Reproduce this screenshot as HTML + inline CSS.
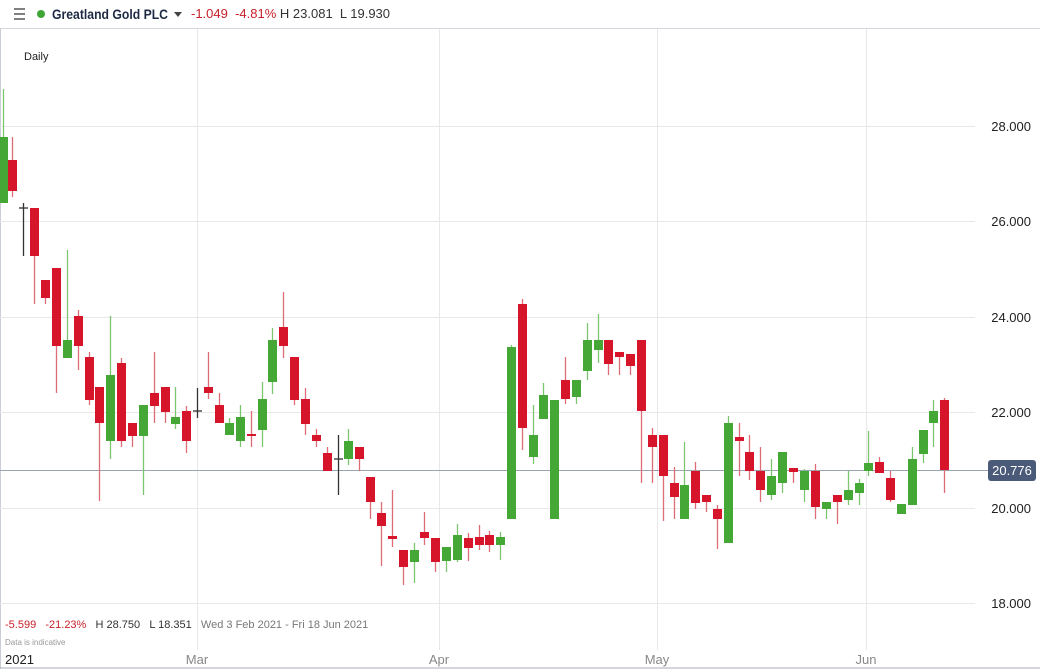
<!DOCTYPE html>
<html><head><meta charset="utf-8"><style>
body{margin:0;width:1040px;height:669px;background:#fff;font-family:"Liberation Sans",sans-serif;overflow:hidden;position:relative}
.t{position:absolute;white-space:nowrap}
</style></head><body>
<svg id="s" width="1040" height="669" style="position:absolute;left:0;top:0">
<line x1="0" y1="28.5" x2="1040" y2="28.5" stroke="#d4d8de"/>
<line x1="0.5" y1="28" x2="0.5" y2="669" stroke="#c9ced6"/>
<line x1="0" y1="668" x2="1040" y2="668" stroke="#a8aeb8"/>
<g stroke="#e8e8e8">
<line x1="0" x2="975" y1="126.5" y2="126.5"/><line x1="0" x2="975" y1="221.5" y2="221.5"/>
<line x1="0" x2="975" y1="317.5" y2="317.5"/><line x1="0" x2="975" y1="412.5" y2="412.5"/>
<line x1="0" x2="975" y1="508.5" y2="508.5"/><line x1="0" x2="975" y1="603.5" y2="603.5"/>
<line x1="197.5" x2="197.5" y1="29" y2="650"/><line x1="439.5" x2="439.5" y1="29" y2="650"/>
<line x1="657.5" x2="657.5" y1="29" y2="650"/><line x1="866.5" x2="866.5" y1="29" y2="650"/>
</g>
<line x1="0" x2="988" y1="470.5" y2="470.5" stroke="#9aa3b2"/>
<g id="c"></g>
<rect x="988" y="460" width="48" height="21" rx="3" fill="#4b5a78"/>
<text x="1012" y="475" fill="#fff" font-size="13" text-anchor="middle" font-family="Liberation Sans">20.776</text>
<g font-size="13" fill="#222" text-anchor="end" font-family="Liberation Sans">
<text x="1031" y="131">28.000</text><text x="1031" y="226">26.000</text><text x="1031" y="322">24.000</text>
<text x="1031" y="417">22.000</text><text x="1031" y="513">20.000</text><text x="1031" y="608">18.000</text>
</g>
<g font-size="13" fill="#888" font-family="Liberation Sans" text-anchor="middle">
<text x="197" y="664">Mar</text><text x="439" y="664">Apr</text><text x="657" y="664">May</text><text x="866" y="664">Jun</text>
</g>
<text x="5" y="664" font-size="13" fill="#222" font-family="Liberation Sans">2021</text>
<g stroke="#555" stroke-width="1.5"><line x1="14" x2="25" y1="9" y2="9"/><line x1="14" x2="25" y1="14" y2="14"/><line x1="14" x2="25" y1="19" y2="19"/></g>
<circle cx="41" cy="14" r="4" fill="#3fa535"/>
<text x="52" y="19" font-size="14" font-weight="bold" fill="#1e2a44" font-family="Liberation Sans" textLength="116" lengthAdjust="spacingAndGlyphs">Greatland Gold PLC</text>
<path d="M174 12 L182 12 L178 17Z" fill="#444"/>
</svg>
<div class="t" style="left:191px;top:6px;font-size:13px"><span style="color:#c8202a">-1.049&nbsp;&nbsp;-4.81%</span> <span style="color:#333">H 23.081&nbsp; L 19.930</span></div>
<div class="t" style="left:24px;top:51px;font-size:11px;color:#222">Daily</div>
<div class="t" style="left:5px;top:619px;font-size:11px"><span style="color:#c8202a">-5.599&nbsp;&nbsp; -21.23%</span>&nbsp;&nbsp; <span style="color:#333">H 28.750&nbsp;&nbsp; L 18.351</span>&nbsp;&nbsp; <span style="color:#777">Wed 3 Feb 2021 - Fri 18 Jun 2021</span></div>
<div class="t" style="left:5px;top:638px;font-size:8px;color:#999">Data is indicative</div>
<script>
var d=[[3,'g',89,137,203,203],[12,'r',137,160,191,197],[23,'k',203,207,209,256],[34,'r',208,208,256,304],[45,'r',280,280,298,304],[56,'r',268,268,346,393],[67,'g',250,340,358,358],[78,'r',310,316,346,370],[89,'r',352,357,400,405],[99,'r',387,387,423,501],[110,'g',316,375,441,459],[121,'r',358,363,441,447],[132,'r',423,423,436,447],[143,'g',405,405,436,495],[154,'r',352,393,406,423],[165,'r',387,387,412,423],[175,'g',387,417,424,429],[186,'r',406,411,441,453],[197,'k',388,410,412,418],[208,'r',352,387,393,399],[219,'r',393,405,423,423],[229,'g',418,423,435,435],[240,'g',405,417,441,447],[251,'r',411,434,436,447],[262,'g',382,399,430,447],[272,'g',328,340,382,394],[283,'r',292,327,346,358],[294,'r',357,357,400,405],[305,'r',388,399,424,435],[316,'r',429,435,441,447],[327,'r',447,453,471,471],[338,'k',435,458,460,495],[348,'g',429,441,459,465],[359,'r',447,447,459,471],[370,'r',477,477,502,519],[381,'r',502,513,526,566],[392,'r',490,536,539,547],[403,'r',550,550,567,585],[414,'g',543,550,562,583],[424,'r',512,532,538,545],[435,'r',538,538,562,572],[446,'g',547,547,561,572],[457,'g',524,535,560,562],[468,'r',533,538,548,561],[479,'r',525,537,545,550],[489,'r',531,535,545,552],[500,'g',532,537,545,560],[511,'g',345,347,519,519],[522,'r',299,304,428,450],[533,'g',405,435,457,464],[543,'g',383,395,419,419],[554,'g',400,400,519,519],[565,'r',357,380,399,404],[576,'g',380,380,397,404],[587,'g',323,340,371,380],[598,'g',314,340,350,363],[608,'r',340,340,364,375],[619,'r',352,352,357,375],[630,'r',354,354,366,375],[641,'r',340,340,411,483],[652,'r',428,435,447,483],[663,'r',435,435,476,521],[674,'r',467,483,497,519],[684,'g',442,485,519,519],[695,'r',462,471,503,509],[706,'r',495,495,502,512],[717,'r',505,509,519,549],[728,'g',416,423,543,543],[739,'r',423,437,441,476],[749,'r',435,452,471,480],[760,'r',447,471,490,502],[771,'g',459,476,495,500],[782,'g',452,452,483,493],[793,'r',469,468,472,483],[804,'g',469,471,490,502],[815,'r',464,471,507,519],[826,'g',502,502,509,519],[837,'r',495,495,502,524],[848,'g',471,490,500,505],[859,'g',479,483,493,505],[868,'g',431,463,471,476],[879,'r',457,462,473,473],[890,'r',471,478,500,502],[901,'g',504,504,514,514],[912,'g',447,459,505,505],[923,'g',447,430,454,463],[933,'g',400,411,423,447],[944,'r',398,400,470,493]];
var h='',col={g:'#45a735',r:'#d7152a',k:'#333'},wc={g:'#7cc66f',r:'#e06c78',k:'#333'};
d.forEach(function(c){var x=c[0];h+='<line x1="'+(x+.5)+'" x2="'+(x+.5)+'" y1="'+c[2]+'" y2="'+c[5]+'" stroke="'+wc[c[1]]+'" stroke-width="1.3"/>';
if(c[1]=='k')h+='<line x1="'+(x-4)+'" x2="'+(x+5)+'" y1="'+(c[3]+1)+'" y2="'+(c[3]+1)+'" stroke="#333" stroke-width="1.3"/>';
else h+='<rect x="'+(x-4)+'" y="'+c[3]+'" width="9" height="'+Math.max(2,c[4]-c[3])+'" fill="'+col[c[1]]+'"/>';});
document.getElementById('c').innerHTML=h;
</script>
</body></html>
